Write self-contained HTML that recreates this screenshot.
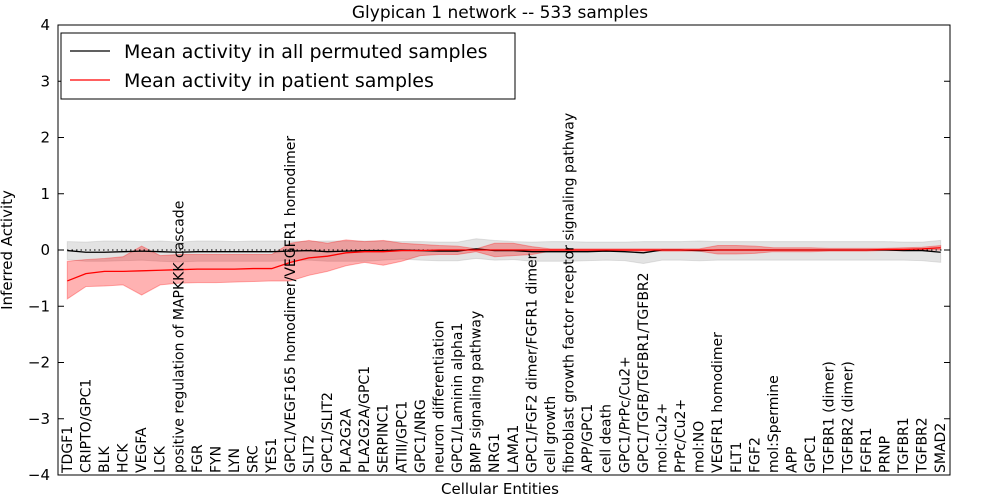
<!DOCTYPE html>
<html><head><meta charset="utf-8"><style>
body{margin:0;background:#fff}
svg{display:block;font-family:"DejaVu Sans","Liberation Sans",sans-serif}
</style></head><body>
<svg id="chart" width="1000" height="500" viewBox="0 0 1000 500" xmlns="http://www.w3.org/2000/svg">
<text x="500" y="18" text-anchor="middle" font-size="17">Glypican 1 network -- 533 samples</text>
<text transform="translate(12,250) rotate(-90)" text-anchor="middle" font-size="15">Inferred Activity</text>
<text x="500" y="494" text-anchor="middle" font-size="15">Cellular Entities</text>
<g id="plot"></g>
</svg>
<script>
const categories=["TDGF1","CRIPTO/GPC1","BLK","HCK","VEGFA","LCK","positive regulation of MAPKKK cascade","FGR","FYN","LYN","SRC","YES1","GPC1/VEGF165 homodimer/VEGFR1 homodimer","SLIT2","GPC1/SLIT2","PLA2G2A","PLA2G2A/GPC1","SERPINC1","ATIII/GPC1","GPC1/NRG","neuron differentiation","GPC1/Laminin alpha1","BMP signaling pathway","NRG1","LAMA1","GPC1/FGF2 dimer/FGFR1 dimer","cell growth","fibroblast growth factor receptor signaling pathway","APP/GPC1","cell death","GPC1/PrPc/Cu2+","GPC1/TGFB/TGFBR1/TGFBR2","mol:Cu2+","PrPc/Cu2+","mol:NO","VEGFR1 homodimer","FLT1","FGF2","mol:Spermine","APP","GPC1","TGFBR1 (dimer)","TGFBR2 (dimer)","FGFR1","PRNP","TGFBR1","TGFBR2","SMAD2"];
const patientMean=[-0.55,-0.42,-0.38,-0.38,-0.37,-0.36,-0.35,-0.34,-0.34,-0.34,-0.33,-0.33,-0.22,-0.14,-0.11,-0.05,-0.03,-0.03,-0.01,-0.01,0,0,0,0,0,0,0,0,0,0,0,0,0,0,0,0,0,0,0,0,0,0,0,0,0.01,0.01,0.02,0.04];
const patientUpper=[-0.2,-0.17,-0.15,-0.12,0.07,-0.1,-0.08,-0.08,-0.08,-0.08,-0.08,-0.08,0.12,0.17,0.12,0.18,0.15,0.17,0.12,0.1,0.08,0.07,0.02,0.12,0.12,0.06,0.02,0.02,0.02,0.02,0.02,0.02,0.02,0.02,0.02,0.08,0.08,0.07,0.04,0.04,0.04,0.03,0.03,0.03,0.03,0.04,0.05,0.08];
const patientLower=[-0.87,-0.65,-0.64,-0.62,-0.8,-0.62,-0.59,-0.58,-0.58,-0.57,-0.56,-0.55,-0.55,-0.45,-0.38,-0.28,-0.22,-0.27,-0.2,-0.1,-0.08,-0.08,-0.03,-0.12,-0.1,-0.08,-0.02,-0.02,-0.02,-0.02,-0.02,-0.02,-0.02,-0.02,-0.02,-0.07,-0.07,-0.06,-0.03,-0.03,-0.03,-0.02,-0.02,-0.02,-0.01,-0.01,0,0];
const permMean=[-0.01,-0.04,-0.04,-0.03,-0.02,-0.03,-0.04,-0.03,-0.03,-0.03,-0.03,-0.03,-0.02,-0.01,-0.03,-0.02,-0.01,-0.01,0,-0.01,-0.02,-0.02,0.02,-0.01,-0.01,-0.03,-0.03,-0.03,-0.03,-0.02,-0.03,-0.05,0,0,-0.01,0,0,0,0,0,0,0,0,0,0,-0.01,-0.01,-0.04];
const permUpper=[0.15,0.14,0.16,0.16,0.15,0.16,0.14,0.16,0.16,0.15,0.16,0.16,0.16,0.15,0.16,0.16,0.16,0.16,0.15,0.15,0.14,0.14,0.2,0.17,0.15,0.14,0.15,0.15,0.14,0.14,0.14,0.15,0.15,0.15,0.16,0.15,0.15,0.15,0.15,0.15,0.15,0.15,0.15,0.15,0.15,0.14,0.14,0.17];
const permLower=[-0.17,-0.2,-0.2,-0.19,-0.18,-0.2,-0.21,-0.2,-0.2,-0.2,-0.2,-0.2,-0.19,-0.18,-0.2,-0.2,-0.2,-0.18,-0.16,-0.18,-0.19,-0.19,-0.15,-0.18,-0.17,-0.2,-0.2,-0.2,-0.19,-0.18,-0.19,-0.24,-0.18,-0.18,-0.19,-0.18,-0.18,-0.18,-0.18,-0.18,-0.18,-0.18,-0.18,-0.18,-0.18,-0.18,-0.19,-0.22];
const yTicks=[-4,-3,-2,-1,0,1,2,3,4];

const L=58,R=950,T=25,B=475,NS="http://www.w3.org/2000/svg";
const x=i=>L+(i+0.5)*(R-L)/categories.length;
const y=v=>T+(4-v)*(B-T)/8;
const g=document.getElementById('plot');
function mk(tag,attrs){const e=document.createElementNS(NS,tag);for(const k in attrs)e.setAttribute(k,attrs[k]);g.appendChild(e);return e;}
function band(up,lo,fill,op){let d='M'+up.map((v,i)=>x(i)+','+y(v)).join('L')+'L'+lo.map((v,i)=>[x(i),y(v)]).reverse().map(p=>p.join(',')).join('L')+'Z';return mk('path',{d:d,fill:fill,'fill-opacity':op,stroke:fill,'stroke-opacity':op,'stroke-width':1});}
function line(vals,col,w,dash){const e=mk('path',{d:'M'+vals.map((v,i)=>x(i)+','+y(v)).join('L'),fill:'none',stroke:col,'stroke-width':w});if(dash)e.setAttribute('stroke-dasharray',dash);return e;}
let e;
e=band(permUpper,permLower,'#b0b0b0',0.35);


e=band(patientUpper,patientLower,'#ff0000',0.3);


e=mk('line',{x1:L,x2:R,y1:y(0),y2:y(0),stroke:'#000','stroke-width':1,'stroke-dasharray':'1.5,3'});


e=line(permMean,'#000',1.3);


e=line(patientMean,'#ff0000',1.3);


yTicks.forEach(v=>{
  const t=mk('text',{x:L-8,y:y(v)+5,'text-anchor':'end','font-size':15});
  t.textContent=(v<0?'\u2212'+(-v):v);
  
  
  const tk=mk('path',{d:`M${L},${y(v)}h6M${R},${y(v)}h-6`,stroke:'#000','stroke-width':1});
  
  
});
categories.forEach((c,i)=>{
  const t=mk('text',{transform:`translate(${x(i)+4.5},${B-2}) rotate(-90)`,'font-size':14});
  t.textContent=c;
  
  
});
e=mk('rect',{x:L,y:T,width:R-L,height:B-T,fill:'none',stroke:'#000','stroke-width':1});


e=mk('rect',{x:61,y:33,width:454,height:66,fill:'#fff',stroke:'#000','stroke-width':1});


[['Mean activity in all permuted samples','#000',51],['Mean activity in patient samples','#ff0000',80]].forEach(([lab,col,yy])=>{
  const l=mk('line',{x1:70,x2:110,y1:yy,y2:yy,stroke:col,'stroke-width':1.3});
  
  
  const t=mk('text',{x:124,y:yy+7,'font-size':19});
  t.textContent=lab;
  
  
});
</script>
</body></html>
